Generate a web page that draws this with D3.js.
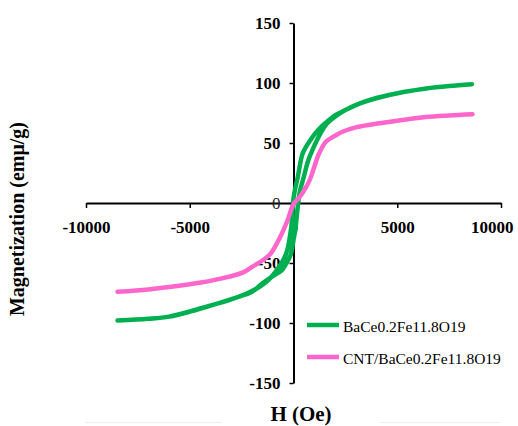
<!DOCTYPE html>
<html>
<head>
<meta charset="utf-8">
<script src="https://cdn.jsdelivr.net/npm/d3@7"></script>
<style>
  html, body { margin: 0; padding: 0; background: #fff; }
  svg { display: block; }
</style>
</head>
<body>
<svg id="chart" width="518" height="426"></svg>
<script>
// ---- data (H in Oe, M in emu/g) ----
const seriesNames = ["BaCe0.2Fe11.8O19", "CNT/BaCe0.2Fe11.8O19"];
const seriesColors = ["#00b050", "#ff66cc"];

// green loop: descending branch (from +H to -H)
const greenDescH = [8600, 7500, 6400, 5300, 4600, 3800, 3200, 2500, 2000, 1500, 1200, 1000, 800, 610, 434, 210, 10, -115, -370, -850, -1200, -1655, -2200, -2795, -3500, -4386, -5200, -5990, -7000, -8480];
const greenDescM = [99, 97.5, 95.5, 92.5, 90, 86.5, 83, 77.5, 73, 66, 61, 57, 52, 47, 41, 22, 5, -21, -43, -57, -64, -70, -75, -79, -83, -87.5, -91.5, -94.7, -96.5, -98];
// green loop: ascending branch (from -H to +H)
const greenAscH = [-8480, -7000, -6000, -4400, -2800, -2000, -1500, -1000, -560, -300, -130, 0, 96, 200, 300, 500, 700, 835, 1012, 1300, 1600, 2000, 2500, 3200, 4600, 5300, 6400, 7500, 8600];
const greenAscM = [-98, -96.5, -94.7, -87.5, -79, -74, -67, -61, -56, -49, -43, -31, -21, -4, 9, 22, 35, 41, 48, 58, 66, 72, 77.5, 83, 90, 92.5, 95.5, 97.5, 99];

// pink curve (very narrow loop, drawn as one line)
const pinkH = [-8480, -7000, -5990, -4386, -3500, -2458, -1976, -1350, -1090, -690, -300, 0, 300, 600, 800, 1000, 1200, 1560, 2000, 2361, 3000, 4129, 5000, 6361, 7500, 8627];
const pinkM = [-74, -72, -70, -66, -63, -58, -53, -46, -42, -30, -15, -1, 5, 13, 20, 30, 40, 51, 56, 59.4, 63, 66.4, 68.5, 71.6, 73, 74];

const xTicks = [-10000, -5000, 0, 5000, 10000];
const yTicks = [-150, -100, -50, 0, 50, 100, 150];
const xTitle = "H (Oe)";
const yTitle = "Magnetization (emμ/g)";

// ---- drawing ----
const svg = d3.select("#chart");
const x = d3.scaleLinear().domain([-10000, 10000]).range([86, 501]);
const y = d3.scaleLinear().domain([-150, 150]).range([383, 23]);
const serif = "'Liberation Serif', 'Times New Roman', serif";
const fmt = d => String(d);

// faint bottom lines
svg.append("line").attr("x1", 85).attr("x2", 222).attr("y1", 422.5).attr("y2", 422.5)
  .attr("stroke", "#eeeeee").attr("stroke-width", 1);
svg.append("line").attr("x1", 380).attr("x2", 500).attr("y1", 422.5).attr("y2", 422.5)
  .attr("stroke", "#eeeeee").attr("stroke-width", 1);

// X axis at M = 0
const xAxis = svg.append("g").attr("transform", `translate(0,${y(0)})`)
  .call(d3.axisBottom(x).tickValues(xTicks).tickSize(5).tickSizeOuter(0).tickFormat(fmt));
// Y axis at H = 0
const yAxis = svg.append("g").attr("transform", `translate(${x(0)},0)`)
  .call(d3.axisLeft(y).tickValues(yTicks).tickSize(4).tickSizeOuter(0).tickPadding(9).tickFormat(fmt));

[xAxis, yAxis].forEach(g => {
  g.select(".domain").attr("stroke", "#000").attr("stroke-width", 2);
  g.selectAll(".tick line").attr("stroke", "#000").attr("stroke-width", 1.5);
  g.selectAll(".tick text").attr("font-family", serif).attr("font-size", 17)
    .attr("font-weight", "bold").attr("fill", "#000");
});
xAxis.selectAll(".tick text").attr("dy", null).attr("y", 30);
// last x label kept inside the picture (shifted left like the reference)
xAxis.selectAll(".tick text").filter(d => d === 10000).attr("text-anchor", "end").attr("x", 12);
// zero labels look lighter
xAxis.selectAll(".tick text").filter(d => d === 0).attr("font-weight", "normal").attr("fill", "#222");
yAxis.selectAll(".tick text").filter(d => d === 0).attr("font-weight", "normal").attr("fill", "#222");

// bring axis lines above tick labels
xAxis.select(".domain").raise();
yAxis.select(".domain").raise();

const lineAny = d3.line().x(d => x(d[0])).y(d => y(d[1])).curve(d3.curveCatmullRom.alpha(0.5));

const greenPts = greenDescH.map((h, i) => [h, greenDescM[i]])
  .concat(greenAscH.map((h, i) => [h, greenAscM[i]]));
const pinkPts = pinkH.map((h, i) => [h, pinkM[i]]);

svg.append("path").datum(greenPts).attr("d", lineAny)
  .attr("fill", "none").attr("stroke", seriesColors[0]).attr("stroke-width", 4.5)
  .attr("stroke-linejoin", "round").attr("stroke-linecap", "round");
svg.append("path").datum(pinkPts).attr("d", lineAny)
  .attr("fill", "none").attr("stroke", seriesColors[1]).attr("stroke-width", 4.5)
  .attr("stroke-linejoin", "round").attr("stroke-linecap", "round");

// axis titles
svg.append("text").attr("x", 301).attr("y", 421).attr("text-anchor", "middle")
  .attr("font-family", serif).attr("font-size", 21).attr("font-weight", "bold").text(xTitle);
svg.append("text").attr("transform", "translate(24,219) rotate(-90)").attr("text-anchor", "middle")
  .attr("font-family", serif).attr("font-size", 20).attr("font-weight", "bold").text(yTitle);

// legend
const legY = [325, 357];
seriesNames.forEach((name, i) => {
  svg.append("line").attr("x1", 307).attr("x2", 339).attr("y1", legY[i]).attr("y2", legY[i])
    .attr("stroke", seriesColors[i]).attr("stroke-width", 4.5);
  svg.append("text").attr("x", 343).attr("y", legY[i] + 6.5)
    .attr("font-family", serif).attr("font-size", 15.5).attr("fill", "#000").text(name);
});
</script>
</body>
</html>
